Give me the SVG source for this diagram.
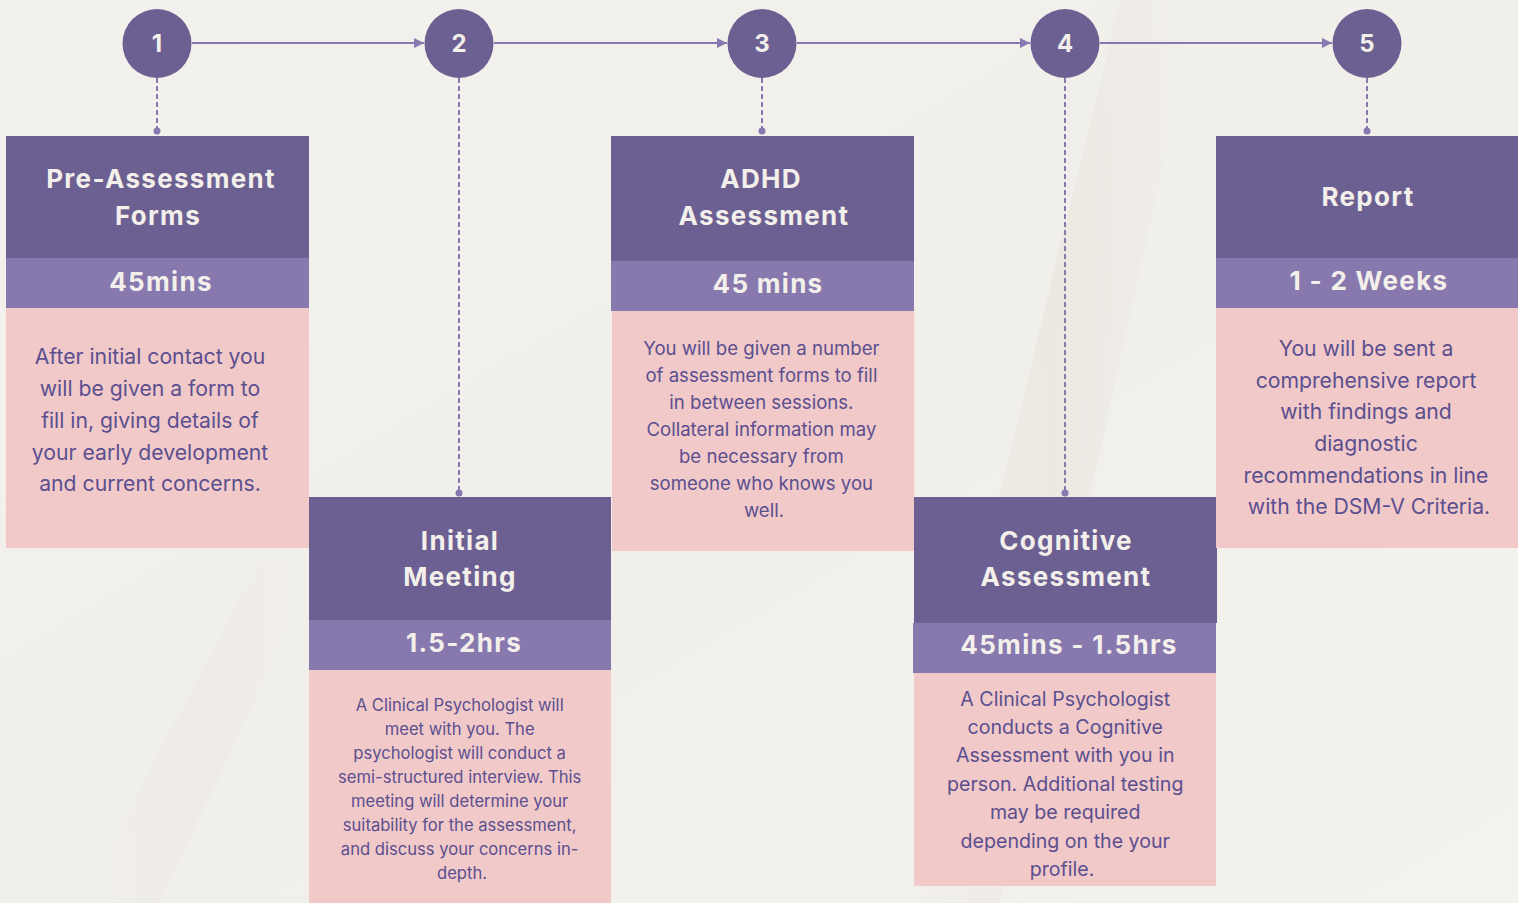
<svg xmlns="http://www.w3.org/2000/svg" width="1518" height="903" viewBox="0 0 1518 903">
  <style>
    .head { fill: #6c6092; }
    .band { fill: #8779ae; }
    .body { fill: #f1c9c9; }
    .title { font-family: Inter, "Liberation Sans", sans-serif; font-weight: 700; font-size: 26px; letter-spacing: 1.3px; fill: #f3efea; text-anchor: middle; }
    .num { font-family: Inter, "Liberation Sans", sans-serif; font-weight: 700; font-size: 24px; fill: #f3efea; text-anchor: middle; }
    .txt { font-family: Inter, "Liberation Sans", sans-serif; font-weight: 400; fill: #5b4f8f; text-anchor: middle; }
    .step { fill: #6c6092; }
    .flow { stroke: #8878b0; stroke-width: 2; fill: none; }
    .drop { stroke: #8878b0; stroke-width: 2; stroke-dasharray: 5 3; fill: none; }
    .pin { fill: #8878b0; }
  </style>
  <defs>
    <marker id="arrow" viewBox="0 0 10 10" refX="10" refY="5" markerWidth="5" markerHeight="5" orient="auto">
      <path d="M0,0 L10,5 L0,10 z" fill="#8878b0"/>
    </marker>
    <linearGradient id="bg" x1="0" y1="0" x2="1" y2="1">
      <stop offset="0" stop-color="#f3f1ed"/>
      <stop offset="0.5" stop-color="#f1efea"/>
      <stop offset="1" stop-color="#f4f2ee"/>
    </linearGradient>
    <linearGradient id="fold" x1="0" y1="0" x2="1" y2="0">
      <stop offset="0" stop-color="#e9e6df" stop-opacity="0"/>
      <stop offset="0.5" stop-color="#e9e6df" stop-opacity="0.7"/>
      <stop offset="1" stop-color="#e9e6df" stop-opacity="0"/>
    </linearGradient>
  </defs>

  <!-- cloth-like backdrop -->
  <rect x="0" y="0" width="1518" height="903" fill="url(#bg)"/>
  <path d="M1120,0 L1200,0 L1000,903 L900,903 Z" fill="url(#fold)"/>
  <path d="M80,903 L260,560 L320,560 L160,903 Z" fill="url(#fold)" opacity="0.6"/>

  <!-- connectors -->
  <g id="connectors">
    <line class="flow" x1="192" y1="43" x2="424" y2="43" marker-end="url(#arrow)"/>
    <line class="flow" x1="494" y1="43" x2="727" y2="43" marker-end="url(#arrow)"/>
    <line class="flow" x1="797" y1="43" x2="1030" y2="43" marker-end="url(#arrow)"/>
    <line class="flow" x1="1100" y1="43" x2="1332" y2="43" marker-end="url(#arrow)"/>

    <line class="drop" x1="157" y1="78" x2="157" y2="131"/>
    <circle class="pin" cx="157" cy="131" r="3.5"/>
    <line class="drop" x1="459" y1="78" x2="459" y2="493"/>
    <circle class="pin" cx="459" cy="493" r="3.5"/>
    <line class="drop" x1="762" y1="78" x2="762" y2="131"/>
    <circle class="pin" cx="762" cy="131" r="3.5"/>
    <line class="drop" x1="1065" y1="78" x2="1065" y2="493"/>
    <circle class="pin" cx="1065" cy="493" r="3.5"/>
    <line class="drop" x1="1367" y1="78" x2="1367" y2="131"/>
    <circle class="pin" cx="1367" cy="131" r="3.5"/>
  </g>

  <!-- numbered steps -->
  <g id="step-1"><circle class="step" cx="157" cy="43.5" r="34.5"/><text class="num" x="157" y="52">1</text></g>
  <g id="step-2"><circle class="step" cx="459" cy="43.5" r="34.5"/><text class="num" x="459" y="52">2</text></g>
  <g id="step-3"><circle class="step" cx="762" cy="43.5" r="34.5"/><text class="num" x="762" y="52">3</text></g>
  <g id="step-4"><circle class="step" cx="1065" cy="43.5" r="34.5"/><text class="num" x="1065" y="52">4</text></g>
  <g id="step-5"><circle class="step" cx="1367" cy="43.5" r="34.5"/><text class="num" x="1367" y="52">5</text></g>

  <!-- card 1 -->
  <g id="card-pre-assessment">
    <rect class="head" x="6" y="136" width="303" height="122"/>
    <rect class="band" x="6" y="258" width="303" height="50"/>
    <rect class="body" x="6" y="308" width="303" height="240"/>
    <text class="title" x="161" y="188">Pre-Assessment</text>
    <text class="title" x="158" y="225">Forms</text>
    <text class="title" x="161" y="291">45mins</text>
    <text class="txt" font-size="21.2">
      <tspan x="153" y="364">After initial contact you</tspan>
      <tspan x="153" y="396">will be given a form to</tspan>
      <tspan x="153" y="428">fill in, giving details of</tspan>
      <tspan x="153" y="460">your early development</tspan>
      <tspan x="150" y="491">and current concerns.</tspan>
    </text>
  </g>

  <!-- card 2 -->
  <g id="card-initial-meeting">
    <rect class="head" x="309" y="497" width="302" height="123"/>
    <rect class="band" x="309" y="620" width="302" height="50"/>
    <rect class="body" x="309" y="670" width="302" height="233"/>
    <text class="title" x="460" y="550">Initial</text>
    <text class="title" x="460" y="586">Meeting</text>
    <text class="title" x="464" y="652">1.5-2hrs</text>
    <text class="txt" font-size="16.6">
      <tspan x="462" y="711">A Clinical Psychologist will</tspan>
      <tspan x="462" y="735">meet with you. The</tspan>
      <tspan x="462" y="759">psychologist will conduct a</tspan>
      <tspan x="462" y="783">semi-structured interview. This</tspan>
      <tspan x="462" y="807">meeting will determine your</tspan>
      <tspan x="462" y="831">suitability for the assessment,</tspan>
      <tspan x="462" y="855">and discuss your concerns in-</tspan>
      <tspan x="462" y="879">depth.</tspan>
    </text>
  </g>

  <!-- card 3 -->
  <g id="card-adhd">
    <rect class="head" x="611" y="136" width="303" height="125"/>
    <rect class="band" x="611" y="261" width="303" height="50"/>
    <rect class="body" x="612" y="311" width="302" height="240"/>
    <text class="title" x="761" y="188">ADHD</text>
    <text class="title" x="764" y="225">Assessment</text>
    <text class="title" x="768" y="293">45 mins</text>
    <text class="txt" font-size="18.6">
      <tspan x="764" y="355">You will be given a number</tspan>
      <tspan x="764" y="382">of assessment forms to fill</tspan>
      <tspan x="764" y="409">in between sessions.</tspan>
      <tspan x="764" y="436">Collateral information may</tspan>
      <tspan x="764" y="463">be necessary from</tspan>
      <tspan x="764" y="490">someone who knows you</tspan>
      <tspan x="764" y="517">well.</tspan>
    </text>
  </g>

  <!-- card 4 -->
  <g id="card-cognitive">
    <rect class="head" x="914" y="497" width="303" height="126"/>
    <rect class="band" x="913" y="623" width="303" height="50"/>
    <rect class="body" x="914" y="673" width="302" height="213"/>
    <text class="title" x="1066" y="550">Cognitive</text>
    <text class="title" x="1066" y="586">Assessment</text>
    <text class="title" x="1069" y="654">45mins - 1.5hrs</text>
    <text class="txt" font-size="19.6">
      <tspan x="1068" y="706">A Clinical Psychologist</tspan>
      <tspan x="1068" y="734">conducts a Cognitive</tspan>
      <tspan x="1068" y="762">Assessment with you in</tspan>
      <tspan x="1068" y="791">person. Additional testing</tspan>
      <tspan x="1068" y="819">may be required</tspan>
      <tspan x="1068" y="848">depending on the your</tspan>
      <tspan x="1062" y="876">profile.</tspan>
    </text>
  </g>

  <!-- card 5 -->
  <g id="card-report">
    <rect class="head" x="1216" y="136" width="302" height="122"/>
    <rect class="band" x="1216" y="258" width="302" height="50"/>
    <rect class="body" x="1216" y="308" width="302" height="240"/>
    <text class="title" x="1368" y="206">Report</text>
    <text class="title" x="1369" y="290">1 - 2 Weeks</text>
    <text class="txt" font-size="21.2">
      <tspan x="1369" y="356">You will be sent a</tspan>
      <tspan x="1369" y="388">comprehensive report</tspan>
      <tspan x="1369" y="419">with findings and</tspan>
      <tspan x="1369" y="451">diagnostic</tspan>
      <tspan x="1369" y="483">recommendations in line</tspan>
      <tspan x="1369" y="514">with the DSM-V Criteria.</tspan>
    </text>
  </g>
</svg>
